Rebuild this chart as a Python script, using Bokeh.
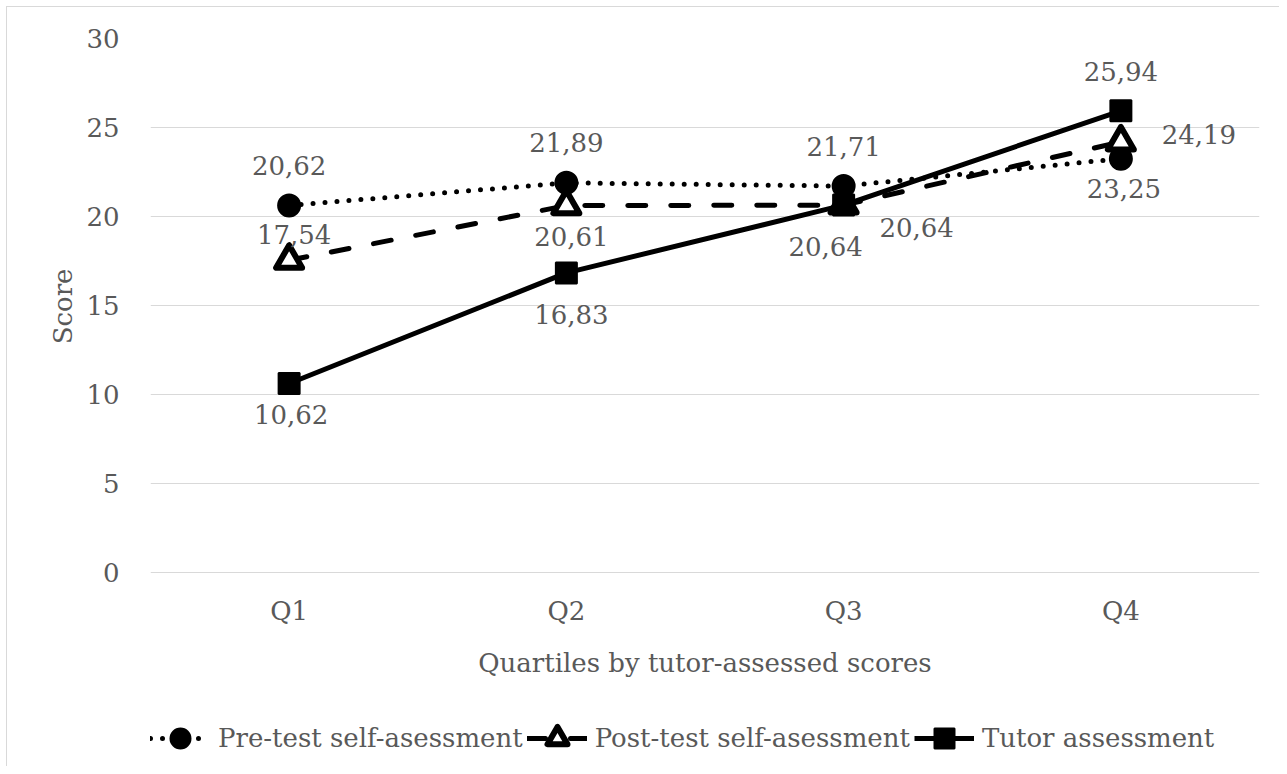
from bokeh.plotting import figure
from bokeh.models import (ColumnDataSource, FactorRange, Range1d, Legend, LegendItem,
                          FixedTicker, Title)
from bokeh.embed import file_html
from bokeh.resources import INLINE
from bokeh.core.properties import value

# ---- data ----
categories = ["Q1", "Q2", "Q3", "Q4"]
pre_test = [20.62, 21.89, 21.71, 23.25]
post_test = [17.54, 20.61, 20.64, 24.19]
tutor = [10.62, 16.83, 20.64, 25.94]
y_ticks = [0, 5, 10, 15, 20, 25, 30]
series_names = ["Pre-test self-asessment", "Post-test self-asessment", "Tutor assessment"]

# label placement (screen px offsets from each point)
pre_offsets = [(0, -40), (0, -40), (0, -40), (3, 30)]
post_offsets = [(5, -26), (5, 31), (73, 22), (78, -7)]
tutor_offsets = [(2, 31), (5, 42), (-18, 41), (0, -39)]

FONT = "DejaVu Serif"
GREY = "#595959"
FS = "26px"

# frame extends below the value axis to host the legend (legend sits under the x axis)
p = figure(x_range=FactorRange(*categories), y_range=Range1d(-10.9, 30),
           frame_width=1109, frame_height=728, output_backend="svg", toolbar_location=None,
           min_border_left=143, min_border_right=20, min_border_top=31,
           min_border_bottom=0)
p.styles = {"border-top": "1px solid #d9d9d9", "border-left": "1px solid #d9d9d9",
            "margin-top": "6px", "margin-left": "6px"}
p.outline_line_color = None
p.background_fill_color = "white"
p.border_fill_color = "white"

p.xgrid.visible = False
p.ygrid.grid_line_color = "#d9d9d9"
p.ygrid.grid_line_width = 1
p.yaxis.ticker = FixedTicker(ticks=y_ticks)

for ax in (p.xaxis[0], p.yaxis[0]):
    ax.axis_line_color = None
    ax.major_tick_line_color = None
    ax.minor_tick_line_color = None
    ax.major_label_text_font = FONT
    ax.major_label_text_font_size = FS
    ax.major_label_text_color = GREY
    ax.axis_label_text_font = FONT
    ax.axis_label_text_font_size = FS
    ax.axis_label_text_color = GREY
    ax.axis_label_text_font_style = "normal"

p.yaxis.major_label_standoff = 25
p.xaxis.fixed_location = 0
p.xaxis.axis_label = "Quartiles by tutor-assessed scores"
p.xaxis.major_label_standoff = 18
p.xaxis.axis_label_standoff = 18

# y-axis title, centred on the 0..30 value band
p.add_layout(Title(text="Score", align="right", offset=230, standoff=12,
                   text_font=FONT, text_font_size=FS, text_color=GREY,
                   text_font_style="normal"), "left")

# ---- series ----
l1 = p.line(categories, pre_test, line_width=5, line_color="black",
            line_dash="0 12", line_cap="round")
m1 = p.scatter(categories, pre_test, marker="circle", size=22,
               fill_color="black", line_color="black", line_width=2)

l2 = p.line(categories, post_test, line_width=5, line_color="black",
            line_dash="18 25", line_cap="round")
m2 = p.scatter(categories, post_test, marker="triangle", size=26,
               fill_color="white", line_color="black", line_width=6,
               line_join="round")

l3 = p.line(categories, tutor, line_width=5, line_color="black")
m3 = p.scatter(categories, tutor, marker="square", size=21,
               fill_color="black", line_color="black", line_width=2)

# ---- data labels ----
def fmt(v):
    return f"{v:.2f}".replace(".", ",")

lx, ly, lt, ox, oy = [], [], [], [], []
for vals, offs in ((pre_test, pre_offsets), (post_test, post_offsets), (tutor, tutor_offsets)):
    for c, v, (dx, dy) in zip(categories, vals, offs):
        lx.append(c)
        ly.append(v)
        lt.append(fmt(v))
        ox.append(dx)
        oy.append(dy)
lab_src = ColumnDataSource(dict(x=lx, y=ly, text=lt, ox=ox, oy=oy))
p.text(x="x", y="y", text="text", x_offset="ox", y_offset="oy", source=lab_src,
       text_font=value(FONT), text_font_size=FS, text_color=GREY,
       text_align="center", text_baseline="middle")

legend = Legend(items=[LegendItem(label=series_names[0], renderers=[l1, m1]),
                       LegendItem(label=series_names[1], renderers=[l2, m2]),
                       LegendItem(label=series_names[2], renderers=[l3, m3])],
                orientation="horizontal", location=(0, 3),
                glyph_width=60, glyph_height=50, label_standoff=8, spacing=4,
                label_text_font=FONT, label_text_font_size=FS, label_text_color=GREY,
                border_line_color=None, background_fill_alpha=0, padding=0, margin=0)
p.add_layout(legend)

open("out.html", "w").write(file_html(p, INLINE))
